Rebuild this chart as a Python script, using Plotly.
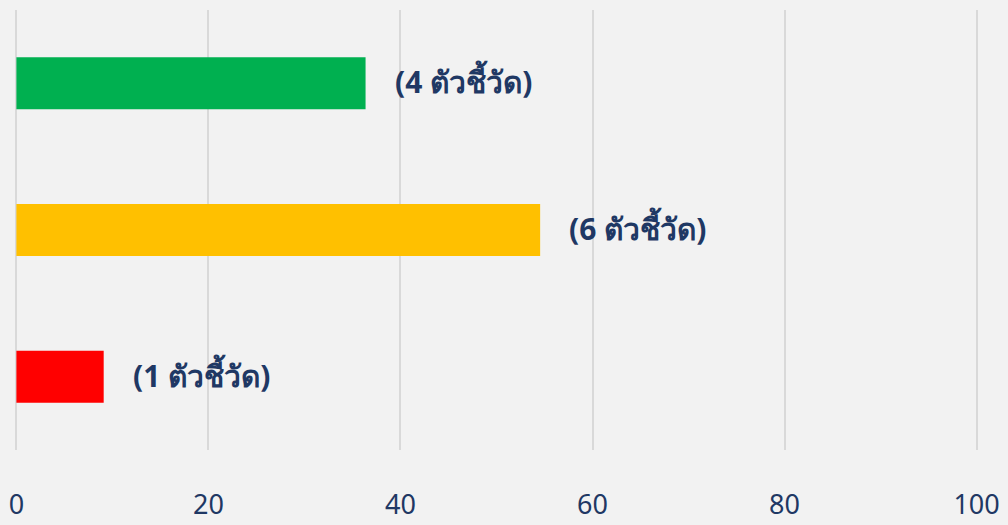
import plotly.graph_objects as go

# Share of indicators per status group (percent of 11 indicators)
categories = ["แดง", "เหลือง", "เขียว"]
values = [100 * 1 / 11, 100 * 6 / 11, 100 * 4 / 11]
counts = [1, 6, 4]
colors = ["#ff0000", "#ffc000", "#00b050"]
tick_vals = [0, 20, 40, 60, 80, 100]

text_color = "#1f3864"
labels = [f"({n} ตัวชี้วัด)" for n in counts]

fig = go.Figure(
    go.Bar(
        y=categories,
        x=values,
        orientation="h",
        marker=dict(color=colors, line=dict(width=0)),
        width=0.354,
        hoverinfo="skip",
    )
)

for cat, val, lab in zip(categories, values, labels):
    fig.add_annotation(
        x=val, y=cat, text=f"<b>{lab}</b>", showarrow=False,
        xanchor="left", xshift=27, yshift=2,
        font=dict(size=30, color=text_color, family="Noto Sans, sans-serif"),
    )

fig.update_layout(
    width=1008, height=525,
    margin=dict(l=14, r=29, t=10, b=75),
    paper_bgcolor="#f2f2f2",
    plot_bgcolor="#f2f2f2",
    showlegend=False,
    xaxis=dict(
        range=[-0.25, 100.25], tickvals=tick_vals, showgrid=True,
        gridcolor="#d9d9d9", gridwidth=2, zeroline=False,
        showline=False, ticks="", ticklabelstandoff=36, automargin=False,
        tickfont=dict(size=27, color=text_color, family="Noto Sans, sans-serif"),
    ),
    yaxis=dict(showticklabels=False, showgrid=False, zeroline=False,
               range=[-0.5, 2.5], automargin=False),
)

fig.write_html("out.html")
